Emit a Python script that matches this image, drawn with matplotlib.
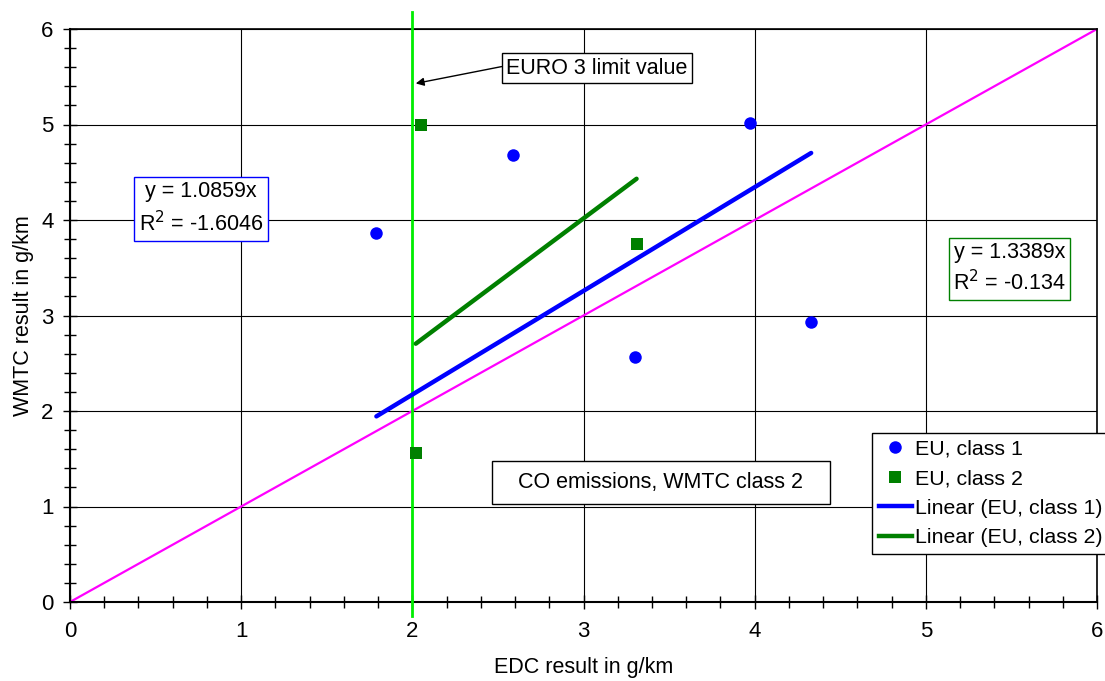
import matplotlib
matplotlib.use("Agg")
import matplotlib.pyplot as plt
import numpy as np
from matplotlib.ticker import MultipleLocator
from matplotlib.lines import Line2D
from matplotlib.patches import Rectangle

plt.rcParams['font.family'] = ['Liberation Sans', 'DejaVu Sans']

# EU class 1 vehicles: EDC vs WMTC CO results (g/km)
class1_edc = [1.79, 2.59, 3.97, 3.30, 4.33]
class1_wmtc = [3.86, 4.68, 5.02, 2.57, 2.93]

# EU class 2 vehicles
class2_edc = [2.05, 3.31, 2.02]
class2_wmtc = [5.00, 3.75, 1.56]

# Linear trend lines through the origin
slope1, r2_1 = 1.0859, -1.6046
slope2, r2_2 = 1.3389, -0.134

euro3_limit = 2.0
axis_ticks = [0, 1, 2, 3, 4, 5, 6]

fig = plt.figure(figsize=(11.05, 6.81), dpi=100)
ax = fig.add_axes([70 / 1105, 79 / 681, 1027 / 1105, 573 / 681])
ax.set_xlim(0, 6)
ax.set_ylim(0, 6)

ax.set_xticks(axis_ticks)
ax.set_yticks(axis_ticks)
ax.xaxis.set_minor_locator(MultipleLocator(0.2))
ax.yaxis.set_minor_locator(MultipleLocator(0.2))
ax.grid(True, which='major', color='black', linewidth=0.8)
ax.set_axisbelow(True)
ax.tick_params(which='major', direction='inout', length=9.5, width=1.0,
               labelsize=16, colors='black')
ax.tick_params(axis='x', which='major', pad=9)
ax.tick_params(axis='y', which='major', pad=7)
ax.tick_params(which='minor', direction='inout', length=8, width=1.0)
for side in ['left', 'bottom']:
    ax.spines[side].set_linewidth(1.5)
for side in ['top', 'right']:
    ax.spines[side].set_linewidth(1.2)

# 1:1 reference line
ax.plot([0, 6], [0, 6], color='#ff00ff', linewidth=1.6, zorder=2)

# EURO 3 limit line
ax.plot([euro3_limit, euro3_limit], [-0.15, 6.18], color='#00ee00',
        linewidth=2.0, clip_on=False, zorder=3)

# Trend lines over the data range of each class
x1 = np.array([min(class1_edc), max(class1_edc)])
x2 = np.array([min(class2_edc), max(class2_edc)])
ax.plot(x1, slope1 * x1, color='#0000ff', linewidth=3.2,
        solid_capstyle='round', zorder=4)
ax.plot(x2, slope2 * x2, color='#008000', linewidth=3.2,
        solid_capstyle='round', zorder=4)

ax.plot(class1_edc, class1_wmtc, 'o', color='#0000ff', markersize=9,
        markeredgewidth=0, zorder=5)
ax.plot(class2_edc, class2_wmtc, 's', color='#008000', markersize=9,
        markeredgewidth=0, zorder=5)

ax.set_xlabel('EDC result in g/km', fontsize=15.5, labelpad=11)
ax.set_ylabel('WMTC result in g/km', fontsize=15.5, labelpad=5)

# Trend line equations
ax.text(0.765, 4.115, f'y = {slope1}x\nR$^2$ = {r2_1}', fontsize=15.5,
        ha='center', va='center', multialignment='center', linespacing=1.45,
        bbox=dict(boxstyle='square,pad=0.22', facecolor='white',
                  edgecolor='#0000ff', linewidth=1.0), zorder=6)
ax.text(5.49, 3.49, f'y = {slope2}x\nR$^2$ = {r2_2}', fontsize=15.5,
        ha='center', va='center', multialignment='center', linespacing=1.35,
        bbox=dict(boxstyle='square,pad=0.2', facecolor='white',
                  edgecolor='#008000', linewidth=1.0), zorder=6)

# Chart caption box
ax.add_patch(Rectangle((2.465, 1.026), 1.975, 0.45, facecolor='white',
                       edgecolor='black', linewidth=1.0, zorder=6))
ax.text(3.45, 1.25, 'CO emissions, WMTC class 2', fontsize=15.5,
        ha='center', va='center', zorder=7)

# Limit value annotation
ax.annotate('EURO 3 limit value', xy=(2.02, 5.43), xytext=(2.55, 5.59),
            fontsize=15.5, ha='left', va='center',
            bbox=dict(boxstyle='square,pad=0.2', facecolor='white',
                      edgecolor='black', linewidth=1.0),
            arrowprops=dict(arrowstyle='-|>', color='black', linewidth=1.0,
                            mutation_scale=12, relpos=(0, 0.62),
                            shrinkA=0, shrinkB=0),
            zorder=6)

handles = [
    Line2D([], [], linestyle='none', marker='o', color='#0000ff',
           markersize=9, markeredgewidth=0),
    Line2D([], [], linestyle='none', marker='s', color='#008000',
           markersize=8.5, markeredgewidth=0),
    Line2D([], [], color='#0000ff', linewidth=3.2),
    Line2D([], [], color='#008000', linewidth=3.2),
]
labels = ['EU, class 1', 'EU, class 2',
          'Linear (EU, class 1)', 'Linear (EU, class 2)']
leg = ax.legend(handles, labels, loc='upper left',
                bbox_to_anchor=(0.781, 0.295), fontsize=15.4,
                frameon=True, fancybox=False, framealpha=1,
                edgecolor='black', borderaxespad=0, borderpad=0.3,
                handlelength=1.55, handletextpad=0.15, labelspacing=0.5)
leg.get_frame().set_linewidth(1.0)
leg.set_zorder(8)

fig.savefig('out.png', dpi=100, facecolor='white')
